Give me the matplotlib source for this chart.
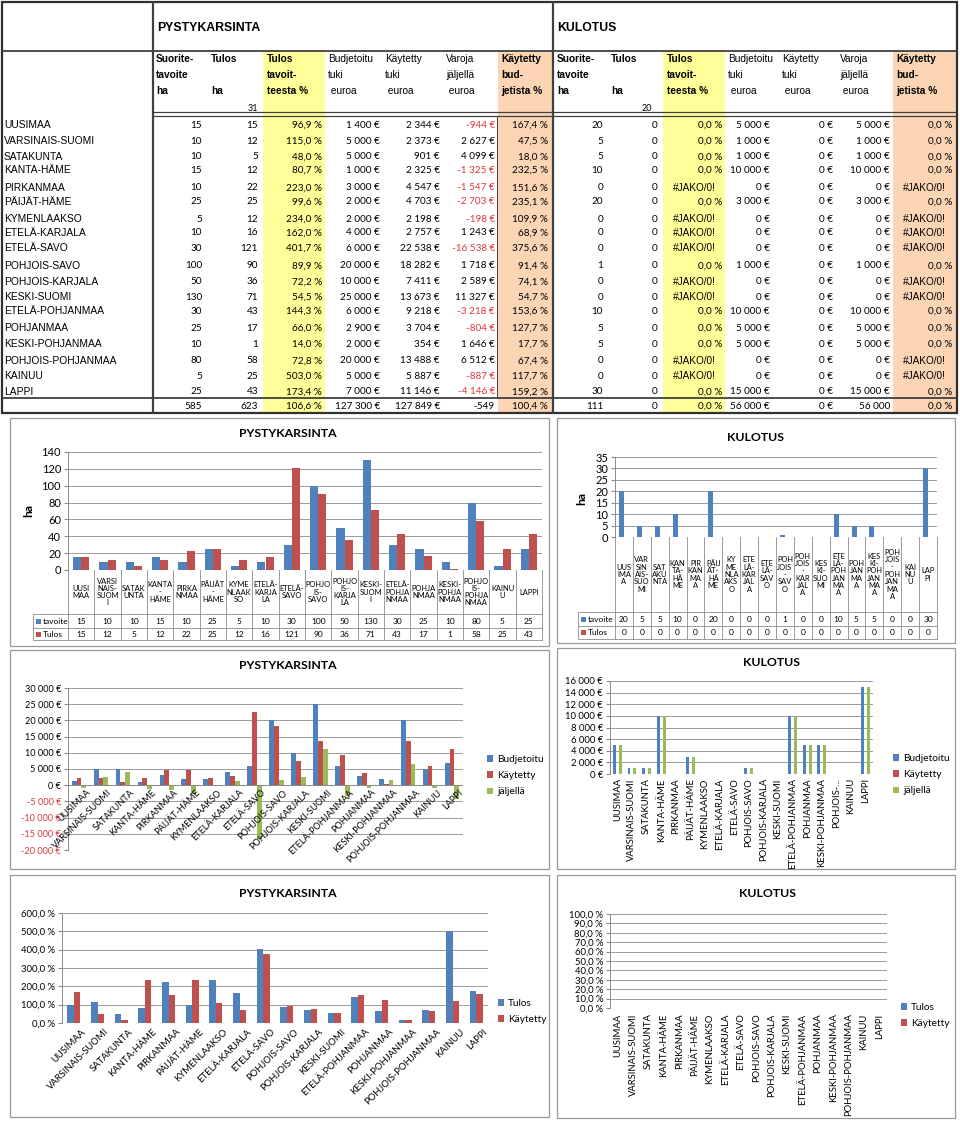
import numpy as np
import matplotlib
matplotlib.use("Agg")
import matplotlib.pyplot as plt
from matplotlib.patches import Rectangle
from matplotlib.transforms import blended_transform_factory, ScaledTranslation

# ---- data ----
regions = ["UUSIMAA", "VARSINAIS-SUOMI", "SATAKUNTA", "KANTA-HÄME", "PIRKANMAA",
           "PÄIJÄT-HÄME", "KYMENLAAKSO", "ETELÄ-KARJALA", "ETELÄ-SAVO", "POHJOIS-SAVO",
           "POHJOIS-KARJALA", "KESKI-SUOMI", "ETELÄ-POHJANMAA", "POHJANMAA",
           "KESKI-POHJANMAA", "POHJOIS-POHJANMAA", "KAINUU", "LAPPI"]

pyst_tavoite = [15, 10, 10, 15, 10, 25, 5, 10, 30, 100, 50, 130, 30, 25, 10, 80, 5, 25]
pyst_tulos = [15, 12, 5, 12, 22, 25, 12, 16, 121, 90, 36, 71, 43, 17, 1, 58, 25, 43]
pyst_tulos_pct = [96.9, 115.0, 48.0, 80.7, 223.0, 99.6, 234.0, 162.0, 401.7, 89.9,
                  72.2, 54.5, 144.3, 66.0, 14.0, 72.8, 503.0, 173.4]
pyst_budj = [1400, 5000, 5000, 1000, 3000, 2000, 2000, 4000, 6000, 20000,
             10000, 25000, 6000, 2900, 2000, 20000, 5000, 7000]
pyst_kayt = [2344, 2373, 901, 2325, 4547, 4703, 2198, 2757, 22538, 18282,
             7411, 13673, 9218, 3704, 354, 13488, 5887, 11146]
pyst_jalj = [-944, 2627, 4099, -1325, -1547, -2703, -198, 1243, -16538, 1718,
             2589, 11327, -3218, -804, 1646, 6512, -887, -4146]
pyst_kayt_pct = [167.4, 47.5, 18.0, 232.5, 151.6, 235.1, 109.9, 68.9, 375.6, 91.4,
                 74.1, 54.7, 153.6, 127.7, 17.7, 67.4, 117.7, 159.2]
pyst_total = ["585", "623", "106,6 %", "127 300 €", "127 849 €", "-549", "100,4 %"]

kul_tavoite = [20, 5, 5, 10, 0, 20, 0, 0, 0, 1, 0, 0, 10, 5, 5, 0, 0, 30]
kul_tulos = [0] * 18
kul_tulos_pct = [0.0, 0.0, 0.0, 0.0, None, 0.0, None, None, None, 0.0,
                 None, None, 0.0, 0.0, 0.0, None, None, 0.0]
kul_budj = [5000, 1000, 1000, 10000, 0, 3000, 0, 0, 0, 1000,
            0, 0, 10000, 5000, 5000, 0, 0, 15000]
kul_kayt = [0] * 18
kul_jalj = [5000, 1000, 1000, 10000, 0, 3000, 0, 0, 0, 1000,
            0, 0, 10000, 5000, 5000, 0, 0, 15000]
kul_kayt_pct = [0.0, 0.0, 0.0, 0.0, None, 0.0, None, None, None, 0.0,
                None, None, 0.0, 0.0, 0.0, None, None, 0.0]
kul_total = ["111", "0", "0,0 %", "56 000 €", "0 €", "56 000", "0,0 %"]

# wrapped category labels used in the data-table charts
cats_ha_pyst = ["UUSI\nMAA", "VARSI\nNAIS-\nSUOM\nI", "SATAK\nUNTA", "KANTA\n-\nHÄME",
                "PIRKA\nNMAA", "PÄIJÄT\n-\nHÄME", "KYME\nNLAAK\nSO", "ETELÄ-\nKARJA\nLA",
                "ETELÄ-\nSAVO", "POHJO\nIS-\nSAVO", "POHJO\nIS-\nKARJA\nLA", "KESKI-\nSUOM\nI",
                "ETELÄ-\nPOHJA\nNMAA", "POHJA\nNMAA", "KESKI-\nPOHJA\nNMAA",
                "POHJO\nIS-\nPOHJA\nNMAA", "KAINU\nU", "LAPPI"]
cats_ha_kul = ["UUS\nIMA\nA", "VAR\nSIN\nAIS-\nSUO\nMI", "SAT\nAKU\nNTA", "KAN\nTA-\nHÄ\nME",
               "PIR\nKAN\nMA\nA", "PÄIJ\nÄT-\nHÄ\nME", "KY\nME\nNLA\nAKS\nO",
               "ETE\nLÄ-\nKAR\nJAL\nA", "ETE\nLÄ-\nSAV\nO", "POH\nJOIS\n-\nSAV\nO",
               "POH\nJOIS\n-\nKAR\nJAL\nA", "KES\nKI-\nSUO\nMI", "ETE\nLÄ-\nPOH\nJAN\nMA\nA",
               "POH\nJAN\nMA\nA", "KES\nKI-\nPOH\nJAN\nMA\nA", "POH\nJOIS\n-\nPOH\nJAN\nMA\nA",
               "KAI\nNU\nU", "LAP\nPI"]

BLUE, RED, GREEN = "#4F81BD", "#C0504D", "#9BBB59"
NEG = "#E0363C"
TF = "Liberation Sans"   # table font
CF = "Lato"              # chart font

W, H = 960, 1122
fig = plt.figure(figsize=(W / 100, H / 100), dpi=100)
bg = fig.add_axes([0, 0, 1, 1])
bg.set_xlim(0, W)
bg.set_ylim(H, 0)
bg.axis("off")


def px_axes(x0, y0, x1, y1):
    return fig.add_axes([x0 / W, 1 - y1 / H, (x1 - x0) / W, (y1 - y0) / H])


def line(xs, ys, lw=0.8, c="#404040", ax=None):
    (ax or bg).plot(xs, ys, color=c, lw=lw, solid_capstyle="butt")


def eur(v):
    s = f"{abs(v):,}".replace(",", " ") + " €"
    return "-" + s if v < 0 else s


def pct(v):
    return f"{v:.1f}".replace(".", ",") + " %"


# ---- table ----
row_y = [125, 141, 156.7, 170, 187.7, 201.7, 219, 232.7, 248.3, 265.7, 281.7,
         297.3, 311, 328.3, 344.3, 360.7, 376, 391.7]
total_y = 406

for x0, x1, c in [(263, 325, "#FFFF99"), (498, 552, "#FCD5B4"),
                  (663, 725, "#FFFF99"), (893, 956, "#FCD5B4")]:
    bg.add_patch(Rectangle((x0, 51), x1 - x0, 362, fc=c, ec="none"))

bg.add_patch(Rectangle((2, 2), 955, 411, fc="none", ec="#303030", lw=1.6))
line([2, 957], [51, 51], lw=1.3)
line([153, 153], [2, 413], lw=1.6)
line([553, 553], [2, 413], lw=1.6)
line([153, 957], [112, 112], lw=0.9)
line([153, 957], [115.5, 115.5], lw=0.9)
line([2, 957], [398, 398], lw=1.3)
line([497, 497], [116, 398], lw=0.7)

bg.text(157, 28, "PYSTYKARSINTA", fontsize=8.8, fontweight="bold", family=TF, va="center")
bg.text(557, 28, "KULOTUS", fontsize=8.8, fontweight="bold", family=TF, va="center")

headers = [("Suorite-", "tavoite", "ha"), ("Tulos", "", "ha"), ("Tulos", "tavoit-", "teesta %"),
           ("Budjetoitu", "tuki", " euroa"), ("Käytetty", "tuki", " euroa"),
           ("Varoja", "jäljellä", " euroa"), ("Käytetty", "bud-", "jetista %")]
bolds = [True, True, True, False, False, False, True]
lefts = {"p": [156, 211, 267, 328, 385, 446, 501], "k": [557, 611, 667, 728, 782, 840, 896]}
rights = {"p": [202, 258, 322, 380, 440, 495, 548], "k": [603, 657, 722, 770, 833, 890, 952]}
centers = {"p": [None, None, 294, None, None, None, 525], "k": [None, None, 694, None, None, None, 924]}

for key in ("p", "k"):
    for j, (hd, b) in enumerate(zip(headers, bolds)):
        for r, t in enumerate(hd):
            bg.text(lefts[key][j], 59 + 16 * r, t, fontsize=7.3, family=TF,
                    fontweight="bold" if b else "normal", va="center")
bg.text(258, 108, "31", fontsize=6.5, family=CF, ha="right", va="center")
bg.text(652, 108, "20", fontsize=6.5, family=CF, ha="right", va="center")

for i, name in enumerate(regions):
    bg.text(4, row_y[i], name, fontsize=7.4, family=TF, va="center")


def put_row(key, y, cells):
    for j, (txt, color) in enumerate(cells):
        if txt == "#JAKO/0!":
            bg.text(centers[key][j], y, txt, fontsize=7.2, family=TF, ha="center",
                    va="center", color=color)
        else:
            bg.text(rights[key][j], y, txt, fontsize=7.2, family=CF, ha="right",
                    va="center", color=color)


for i in range(len(regions)):
    put_row("p", row_y[i], [
        (str(pyst_tavoite[i]), "k"), (str(pyst_tulos[i]), "k"), (pct(pyst_tulos_pct[i]), "k"),
        (eur(pyst_budj[i]), "k"), (eur(pyst_kayt[i]), "k"),
        (eur(pyst_jalj[i]), NEG if pyst_jalj[i] < 0 else "k"), (pct(pyst_kayt_pct[i]), "k")])
    put_row("k", row_y[i], [
        (str(kul_tavoite[i]), "k"), (str(kul_tulos[i]), "k"),
        (pct(kul_tulos_pct[i]) if kul_tulos_pct[i] is not None else "#JAKO/0!", "k"),
        (eur(kul_budj[i]), "k"), (eur(kul_kayt[i]), "k"), (eur(kul_jalj[i]), "k"),
        (pct(kul_kayt_pct[i]) if kul_kayt_pct[i] is not None else "#JAKO/0!", "k")])
put_row("p", total_y, [(t, "k") for t in pyst_total])
put_row("k", total_y, [(t, "k") for t in kul_total])

# ---- chart frames ----
for x0, y0, x1, y1 in [(10, 418, 549, 646), (557, 418, 955, 643),
                       (10, 650, 549, 869), (557, 648, 955, 869),
                       (10, 875, 549, 1117), (557, 875, 955, 1118)]:
    bg.add_patch(Rectangle((x0, y0), x1 - x0, y1 - y0, fc="white", ec="#9a9a9a", lw=0.9))


def style_ax(ax, ymin, ymax, step, fmt, fs, neg_red=False):
    ax.set_ylim(ymin, ymax)
    ticks = np.arange(ymin, ymax + step / 2, step)
    ax.set_yticks(ticks)
    ax.set_yticklabels([fmt(t) for t in ticks], fontsize=fs, family=CF)
    if neg_red:
        for t, lab in zip(ticks, ax.get_yticklabels()):
            if t < 0:
                lab.set_color(NEG)
    ax.grid(axis="y", color="#8a8a8a", lw=0.6)
    ax.set_axisbelow(True)
    ax.set_xticks([])
    for s in ("top", "right", "bottom"):
        ax.spines[s].set_visible(False)
    ax.spines["left"].set_color("#8a8a8a")
    ax.spines["left"].set_linewidth(0.7)
    ax.tick_params(axis="y", length=3, color="#8a8a8a", pad=2)
    ax.patch.set_alpha(0)


def bars(ax, series, colors, cluster):
    n = len(series[0])
    idx = np.arange(n)
    w = cluster / len(series)
    for k, (vals, c) in enumerate(zip(series, colors)):
        v = [0 if x is None else x for x in vals]
        ax.bar(idx + (k - (len(series) - 1) / 2) * w, v, w, color=c, lw=0)
    ax.set_xlim(-0.5, n - 0.5)
    ax.axhline(0, color="#8a8a8a", lw=0.7)


def table_chart(x0, ytop, x1, yzero, ycat, yrow, ybot, legx, cats, series, names, ymax,
                step, title, tx, ty, hx, hy, cat_fs, val_fs, tick_fs, cluster):
    ax = px_axes(x0, ytop, x1, yzero)
    bars(ax, series, [BLUE, RED], cluster)
    style_ax(ax, 0, ymax, step, lambda t: f"{t:.0f}", tick_fs)
    tr = blended_transform_factory(ax.transData, bg.transData)
    n = len(cats)
    for i in range(n + 1):
        ax.plot([i - 0.5, i - 0.5], [yzero, ybot], transform=tr, color="#8a8a8a", lw=0.6,
                clip_on=False)
    for yy in (ycat, yrow, ybot):
        line([legx, x1], [yy, yy], lw=0.6, c="#8a8a8a")
    line([legx, legx], [ycat, ybot], lw=0.6, c="#8a8a8a")
    for i, c in enumerate(cats):
        ax.text(i, (yzero + ycat) / 2, c, transform=tr, ha="center", va="center",
                fontsize=cat_fs, family=CF, linespacing=1.05, clip_on=False)
    for vals, yy0, yy1 in [(series[0], ycat, yrow), (series[1], yrow, ybot)]:
        for i, v in enumerate(vals):
            ax.text(i, (yy0 + yy1) / 2, str(v), transform=tr, ha="center", va="center",
                    fontsize=val_fs, family=CF, clip_on=False)
    for name, col, yy0, yy1 in [(names[0], BLUE, ycat, yrow), (names[1], RED, yrow, ybot)]:
        bg.add_patch(Rectangle((legx + 3, (yy0 + yy1) / 2 - 2.5), 5, 5, fc=col, ec="none"))
        bg.text(legx + 10, (yy0 + yy1) / 2, name, fontsize=val_fs, family=CF, va="center")
    bg.text(tx, ty, title, fontsize=8.8, fontweight="bold", family=CF, ha="center", va="center")
    bg.text(hx, hy, "ha", fontsize=8.8, fontweight="bold", family=CF, rotation=90,
            ha="center", va="center")
    return ax


table_chart(68, 452, 542, 570, 614, 628, 640, 33, cats_ha_pyst, [pyst_tavoite, pyst_tulos],
            ["tavoite", "Tulos"], 140, 20, "PYSTYKARSINTA", 288, 433, 29, 510,
            5.4, 6.0, 8.0, 0.62)
table_chart(615, 457, 937, 537, 612, 626, 639, 578, cats_ha_kul, [kul_tavoite, kul_tulos],
            ["tavoite", "Tulos"], 35, 5, "KULOTUS", 755, 437, 582, 498,
            5.4, 6.0, 8.0, 0.55)


def cat_labels(ax, labels, rot, fs, dx=0.0, dy_pt=-3):
    off = ScaledTranslation(0, dy_pt / 72, fig.dpi_scale_trans)
    tr = blended_transform_factory(ax.transData, ax.transData) + off
    for i, lab in enumerate(labels):
        if rot == 45:
            ax.text(i + dx, 0, lab, transform=tr, rotation=45, rotation_mode="anchor",
                    ha="right", va="top", fontsize=fs, family=CF, clip_on=False)
        else:
            ax.text(i + dx, 0, lab, transform=tr, rotation=90, ha="center", va="top",
                    fontsize=fs, family=CF, clip_on=False)


def legend(ax, names, colors, x, y, fs, spacing):
    handles = [Rectangle((0, 0), 1, 1, fc=c, ec="none") for c in colors]
    ax.legend(handles, names, loc="upper left", bbox_to_anchor=(x / W, 1 - y / H),
              bbox_transform=fig.transFigure, frameon=False,
              handlelength=0.6, handleheight=0.6, handletextpad=0.4,
              labelspacing=spacing, prop={"family": CF, "size": fs})


def eur_tick(t):
    return f"{int(t):,}".replace(",", " ") + " €"


def pct_tick(t):
    return f"{t:.1f}".replace(".", ",") + " %"


# chart 3: euros, pystykarsinta
ax3 = px_axes(68, 688, 463, 850)
bars(ax3, [pyst_budj, pyst_kayt, pyst_jalj], [BLUE, RED, GREEN], 0.66)
style_ax(ax3, -20000, 30000, 5000, eur_tick, 6.6, neg_red=True)
cat_labels(ax3, regions, 45, 6.6, dx=0.3, dy_pt=-2)
legend(ax3, ["Budjetoitu", "Käytetty", "jäljellä"], [BLUE, RED, GREEN], 478, 746, 7.3, 0.7)
bg.text(288, 665, "PYSTYKARSINTA", fontsize=8.8, fontweight="bold", family=CF,
        ha="center", va="center")

# chart 4: euros, kulotus
kul_cats = regions[:15] + ["POHJOIS-..."] + regions[16:]
ax4 = px_axes(610, 681, 873, 774)
bars(ax4, [kul_budj, kul_kayt, kul_jalj], [BLUE, RED, GREEN], 0.6)
style_ax(ax4, 0, 16000, 2000, eur_tick, 6.8)
cat_labels(ax4, kul_cats, 90, 6.8, dy_pt=-3)
legend(ax4, ["Budjetoitu", "Käytetty", "jäljellä"], [BLUE, RED, GREEN], 884, 745, 7.3, 0.7)
bg.text(771, 662, "KULOTUS", fontsize=8.8, fontweight="bold", family=CF,
        ha="center", va="center")

# chart 5: percents, pystykarsinta
ax5 = px_axes(62, 913, 488, 1023)
bars(ax5, [pyst_tulos_pct, pyst_kayt_pct], [BLUE, RED], 0.56)
style_ax(ax5, 0, 600, 100, pct_tick, 6.8)
cat_labels(ax5, regions, 45, 6.8, dx=0.3, dy_pt=-3)
legend(ax5, ["Tulos", "Käytetty"], [BLUE, RED], 489, 990, 7.3, 0.7)
bg.text(288, 893, "PYSTYKARSINTA", fontsize=8.8, fontweight="bold", family=CF,
        ha="center", va="center")

# chart 6: percents, kulotus
ax6 = px_axes(610, 914, 887, 1008)
bars(ax6, [kul_tulos_pct, kul_kayt_pct], [BLUE, RED], 0.56)
style_ax(ax6, 0, 100, 10, pct_tick, 6.8)
cat_labels(ax6, regions, 90, 6.8, dy_pt=-4)
legend(ax6, ["Tulos", "Käytetty"], [BLUE, RED], 892, 994, 7.3, 0.7)
bg.text(768, 893, "KULOTUS", fontsize=8.8, fontweight="bold", family=CF,
        ha="center", va="center")

fig.savefig("out.png", dpi=100)
